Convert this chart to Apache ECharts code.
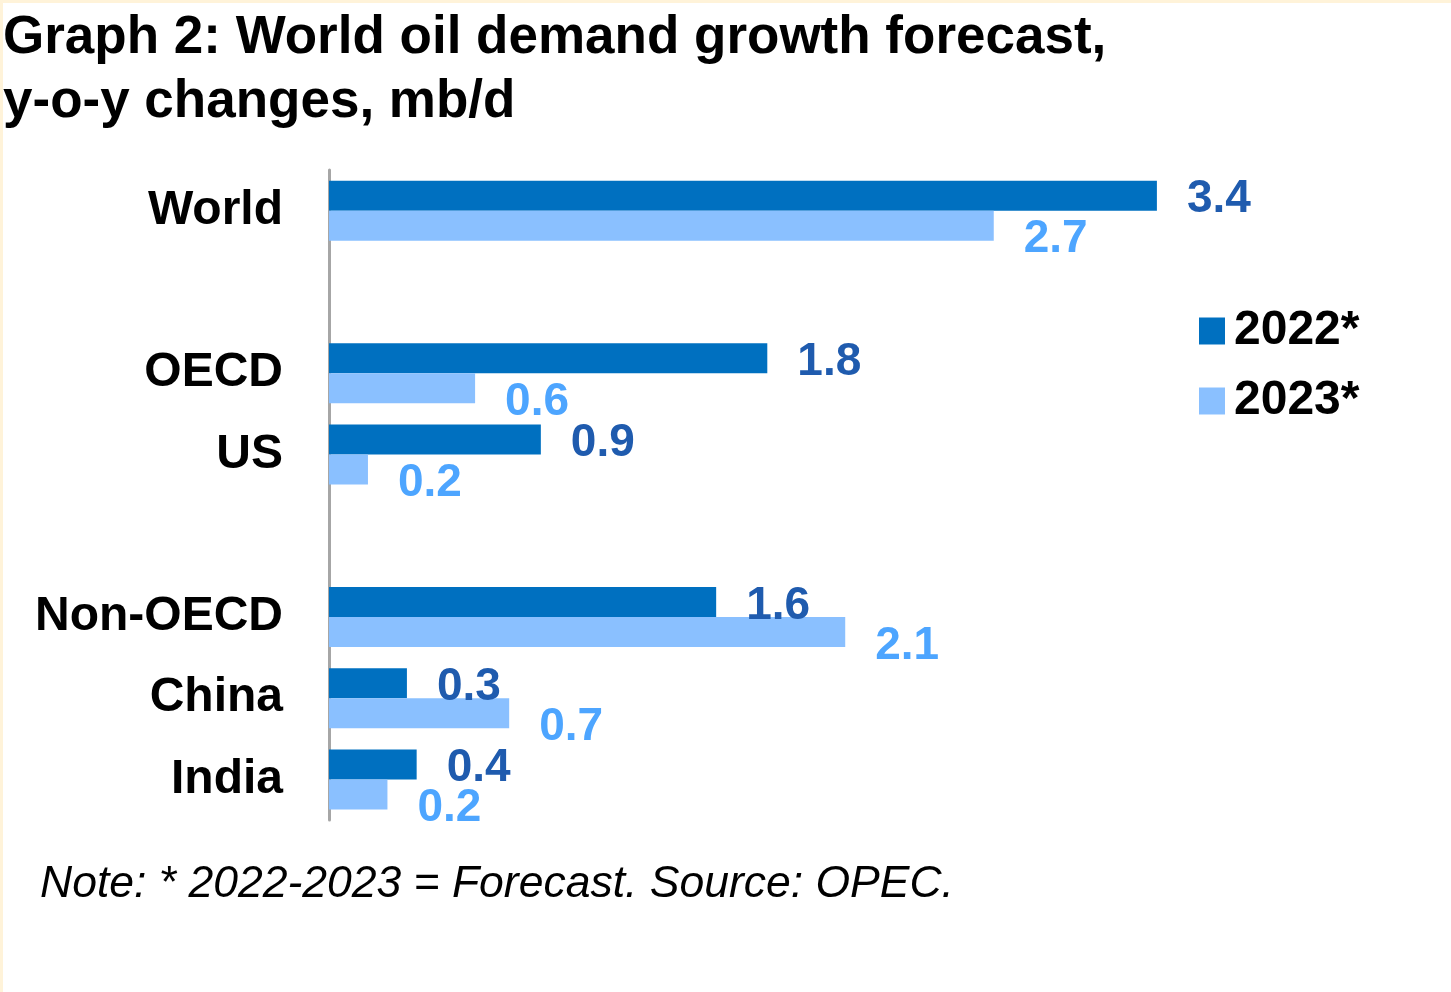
<!DOCTYPE html>
<html>
<head>
<meta charset="utf-8">
<script src="https://cdn.jsdelivr.net/npm/echarts@6/dist/echarts.min.js"></script>
<style>
html,body{margin:0;padding:0;background:#fff;}
#chart{width:1451px;height:992px;}
</style>
</head>
<body>
<div id="chart"></div>
<script>
const categories = ['World', '', 'OECD', 'US', '', 'Non-OECD', 'China', 'India'];
const seriesNames = ['2022*', '2023*'];
const values2022 = [3.40, null, 1.80, 0.87, null, 1.59, 0.32, 0.36];
const values2023 = [2.73, null, 0.60, 0.16, null, 2.12, 0.74, 0.24];
const titleText = 'Graph 2: World oil demand growth forecast,\ny-o-y changes, mb/d';
const noteText = 'Note: * 2022-2023 = Forecast. Source: OPEC.';

const FONT = '"Liberation Sans", Arial, Helvetica, sans-serif';
const chart = echarts.init(document.getElementById('chart'), null, {renderer: 'canvas'});

const labelFmt = p => (p.value == null ? '' : Number(p.value).toFixed(1));

chart.setOption({
  backgroundColor: '#ffffff',
  animation: false,
  title: {
    text: titleText,
    left: -2,
    top: 1,
    textStyle: {fontFamily: FONT, fontWeight: 'bold', fontSize: 53, lineHeight: 64, color: '#000'}
  },
  legend: {
    orient: 'vertical',
    left: 1194,
    top: 302,
    itemWidth: 26,
    itemHeight: 27,
    itemGap: 22,
    icon: 'rect',
    data: seriesNames,
    textStyle: {fontFamily: FONT, fontWeight: 'bold', fontSize: 48, color: '#000', padding: [0, 0, 0, 4]}
  },
  grid: {left: 329, top: 170, width: 974, height: 650, containLabel: false},
  xAxis: {
    type: 'value', min: 0, max: 4,
    show: false
  },
  yAxis: {
    type: 'category',
    inverse: true,
    data: categories,
    axisLine: {show: true, lineStyle: {color: '#A6A6A6', width: 3}},
    axisTick: {show: false},
    splitLine: {show: false},
    axisLabel: {fontFamily: FONT, fontWeight: 'bold', fontSize: 48, color: '#000', margin: 46}
  },
  series: [
    {
      name: seriesNames[0], type: 'bar', data: values2022,
      barWidth: 30, barGap: '0%',
      itemStyle: {color: '#0070C0'},
      label: {show: true, position: 'right', distance: 30, offset: [0, 4], formatter: labelFmt,
        fontFamily: FONT, fontWeight: 'bold', fontSize: 46, color: '#1F5BAE'}
    },
    {
      name: seriesNames[1], type: 'bar', data: values2023,
      barWidth: 30, barGap: '0%',
      itemStyle: {color: '#8AC0FF'},
      label: {show: true, position: 'right', distance: 30, offset: [0, 14], formatter: labelFmt,
        fontFamily: FONT, fontWeight: 'bold', fontSize: 46, color: '#4DA5FF'}
    }
  ],
  graphic: [
    {type: 'rect', left: 0, top: 0, shape: {width: 1451, height: 3}, style: {fill: '#FFF3D9'}, silent: true},
    {type: 'rect', left: 0, top: 0, shape: {width: 3, height: 992}, style: {fill: '#FFF3D9'}, silent: true},
    {type: 'text', left: 40, top: 862,
      style: {text: noteText, font: 'italic 44.5px ' + FONT, fill: '#000'}}
  ]
});
</script>
</body>
</html>
